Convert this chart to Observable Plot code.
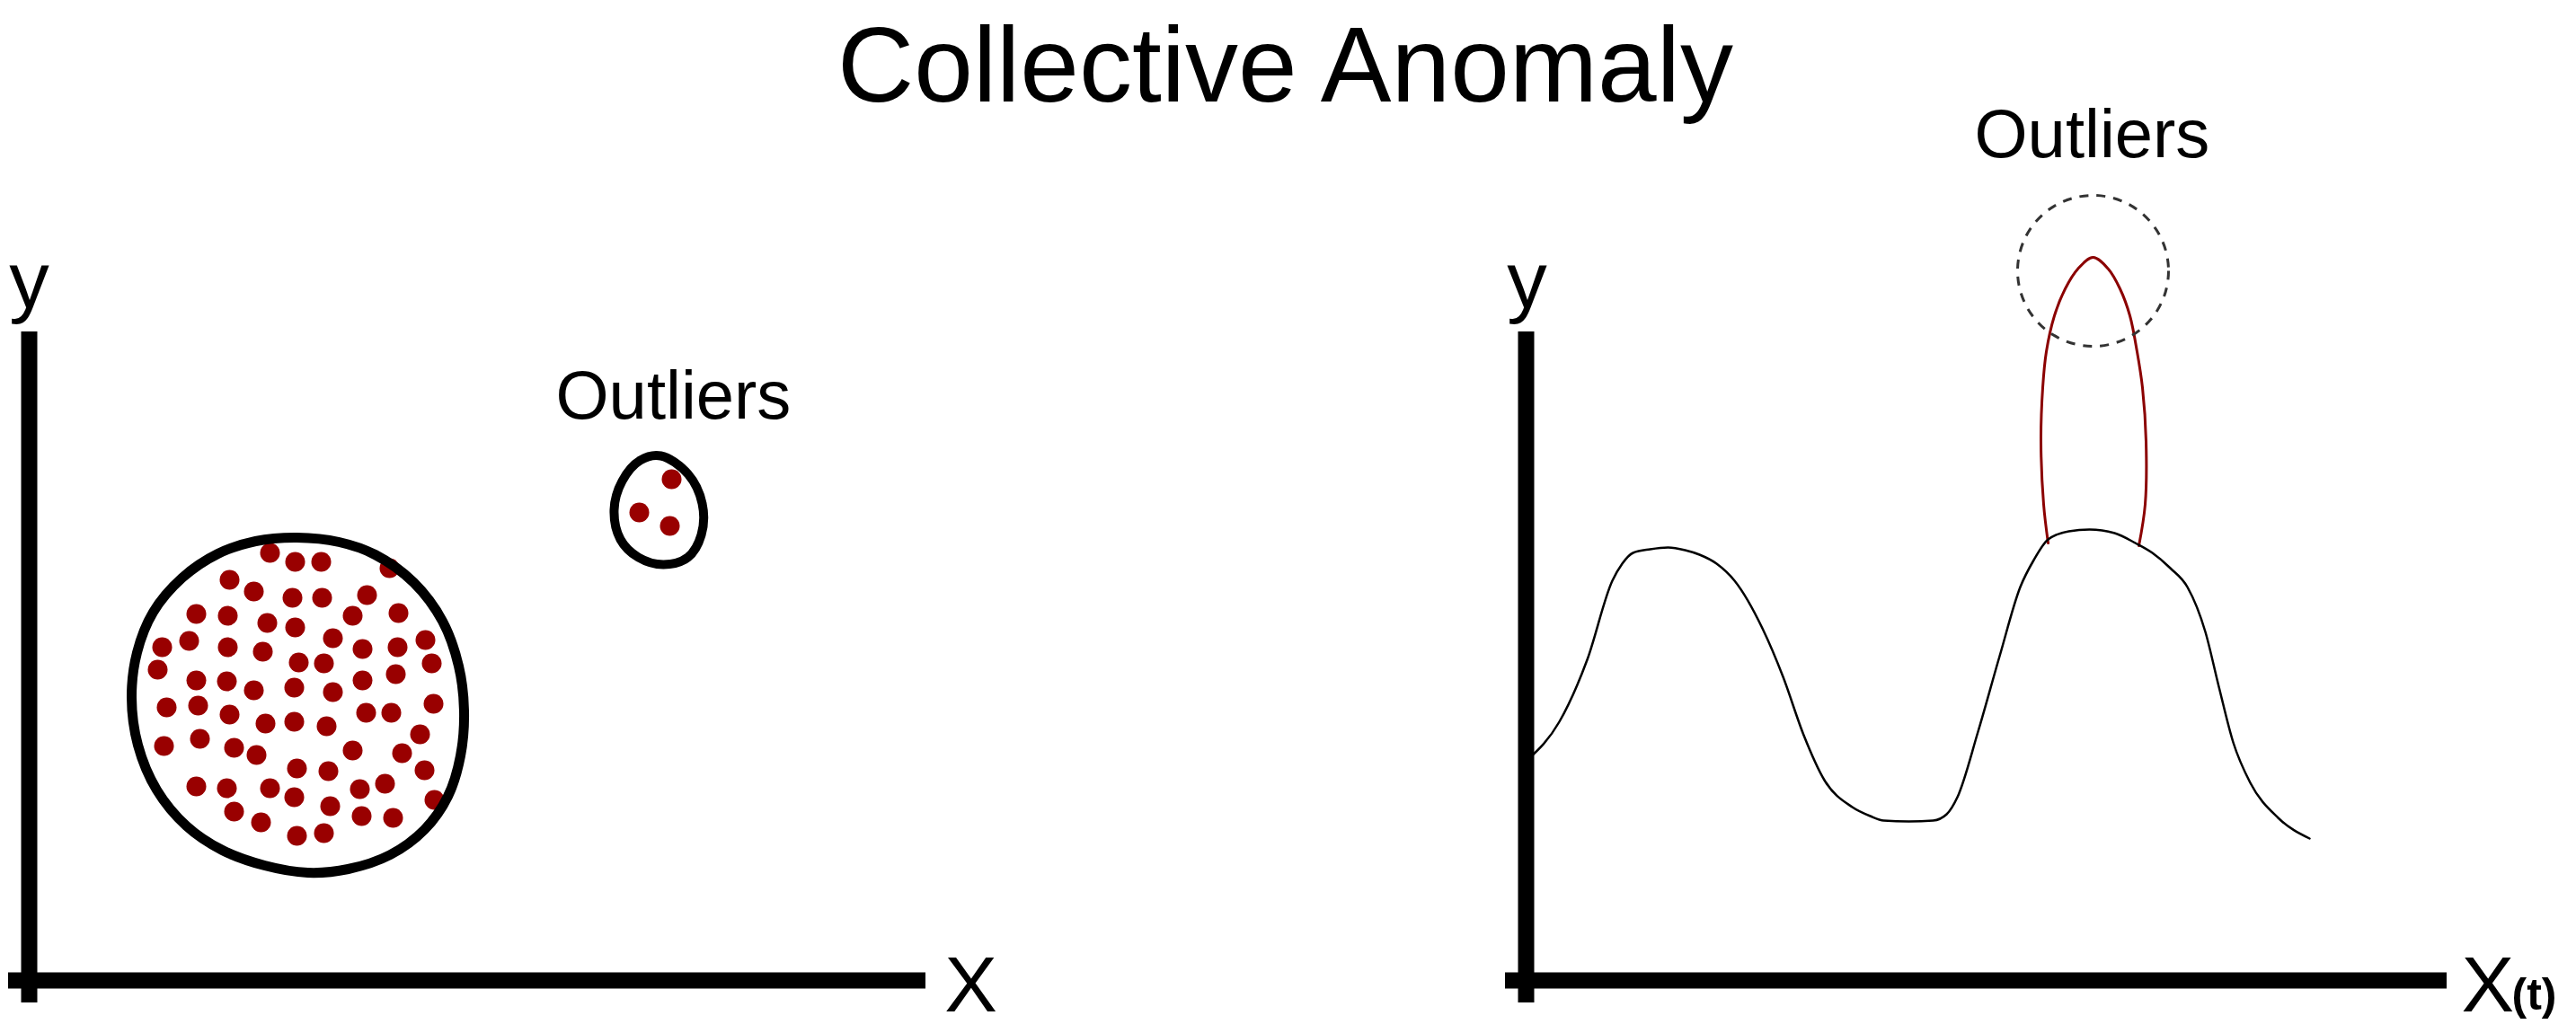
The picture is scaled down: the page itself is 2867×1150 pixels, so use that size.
<!DOCTYPE html>
<html>
<head>
<meta charset="utf-8">
<script src="https://cdn.jsdelivr.net/npm/d3@7"></script>
<script src="https://cdn.jsdelivr.net/npm/@observablehq/plot@0.6"></script>
<style>
  html, body { margin: 0; padding: 0; background: white; }
  #chart svg { display: block; }
</style>
</head>
<body>
<div id="chart"></div>
<script>
// ---- Data (panel units: origin at each panel's axis corner, x right, y up) ----
const titleText = "Collective Anomaly";
const axisLabels = { y: "y", x: "X", t: "(t)", outliers: "Outliers" };

// Left panel: normal cluster points
const clusterPoints = [
  [268,476],[296,466],[325,466],[401,459],[223,446],[250,433],[293,426],[326,426],
  [376,429],[411,409],[186,408],[221,406],[265,398],[296,393],[360,406],[148,371],
  [178,378],[221,371],[260,366],[338,381],[371,369],[410,371],[441,379],[143,346],
  [186,334],[220,333],[250,323],[300,354],[328,353],[371,334],[408,341],[448,353],
  [295,326],[338,321],[153,304],[188,306],[223,296],[263,286],[295,288],[331,283],
  [375,298],[403,298],[450,308],[150,261],[190,269],[228,259],[253,251],[298,236],
  [333,233],[360,256],[415,253],[435,274],[440,234],[186,216],[220,214],[268,214],
  [295,204],[335,194],[368,213],[396,219],[451,201],[228,188],[258,176],[298,161],
  [328,164],[370,183],[405,181]
];
// Left panel: outlier points
const outlierPoints = [[715,558],[679,521],[713,506]];

// Hand-drawn enclosing outlines
const clusterOutline = [
  [298,493],[345,488],[385,474],[428,443],[460,400],[478,350],[484,300],[480,250],
  [466,205],[440,168],[402,140],[355,124],[310,120],[262,128],[215,145],[175,172],
  [142,212],[121,262],[114,315],[120,365],[138,410],[170,448],[210,475],[252,489]
];
const outlierOutline = [
  [703,584],[733,564],[749,531],[748,496],[733,471],[706,463],[678,471],[658,491],
  [651,524],[660,556],[680,579]
];

// Right panel: time series (t, y)
const seriesT = [2,37,68,96,107,119,138,158,177,193,212,232,263,286,309,332,363,383,398,426,453,468,480,503,527,550,565,581,604,627,655,678,697,717,736,756,771,787,806,837,872];
const seriesY = [246,288,357,445,464,476,480,482,479,474,464,445,392,338,273,223,193,183,178,177,178,185,204,277,361,438,468,491,500,502,498,487,476,459,438,388,327,265,220,181,158];

// Right panel: anomalous spike (t, y)
const spikeT = [581,576,573,575,579,588,600,614,631,648,661,672,680,686,690,689,682];
const spikeY = [487,530,600,660,700,740,770,792,805,792,770,740,700,660,600,530,484];

// Right panel: highlighted outlier region centre
const outlierRegion = [[631,790]];

// ---- Layout constants ----
const RIGHT = 1666;              // right panel origin offset
const AX = { yTop: 722, yBottom: -25, xLeft: -23, xRightL: 998, xRightR: 1025 };
const FONT = "Liberation Sans, Arial, Helvetica, sans-serif";

const series = seriesT.map((t, i) => ({ x: RIGHT + t, y: seriesY[i] }));
const spike = spikeT.map((t, i) => ({ x: RIGHT + t, y: spikeY[i] }));

const chart = Plot.plot({
  width: 2867,
  height: 1150,
  margin: 0,
  style: { background: "white", fontFamily: FONT, overflow: "visible" },
  x: { domain: [-32, 2835], axis: null },
  y: { domain: [-59, 1091], axis: null },
  marks: [
    // axes (left)
    Plot.ruleX([0], { y1: AX.yBottom, y2: AX.yTop, stroke: "black", strokeWidth: 18 }),
    Plot.ruleY([0], { x1: AX.xLeft, x2: AX.xRightL, stroke: "black", strokeWidth: 18 }),
    // axes (right)
    Plot.ruleX([RIGHT], { y1: AX.yBottom, y2: AX.yTop, stroke: "black", strokeWidth: 18 }),
    Plot.ruleY([0], { x1: RIGHT + AX.xLeft, x2: RIGHT + AX.xRightR, stroke: "black", strokeWidth: 18 }),

    // left panel points
    Plot.dot(clusterPoints, { x: d => d[0], y: d => d[1], r: 11, fill: "#990000", stroke: "none" }),
    Plot.dot(outlierPoints, { x: d => d[0], y: d => d[1], r: 11, fill: "#990000", stroke: "none" }),
    Plot.line(clusterOutline, { x: d => d[0], y: d => d[1], curve: "catmull-rom-closed", stroke: "black", strokeWidth: 11 }),
    Plot.line(outlierOutline, { x: d => d[0], y: d => d[1], curve: "catmull-rom-closed", stroke: "black", strokeWidth: 10 }),

    // right panel series
    Plot.line(spike, { x: "x", y: "y", curve: "catmull-rom", stroke: "#8B0000", strokeWidth: 3 }),
    Plot.line(series, { x: "x", y: "y", curve: "monotone-x", stroke: "black", strokeWidth: 2.5 }),
    Plot.dot(outlierRegion, { x: d => RIGHT + d[0], y: d => d[1], r: 84, fill: "none", stroke: "#333", strokeWidth: 3, strokeDasharray: "10,9" }),

    // texts
    Plot.text([titleText], { x: 1398, y: 1016, text: d => d, fontSize: 118, fill: "black", fontFamily: FONT }),
    Plot.text([axisLabels.y], { x: 0, y: 778, text: d => d, fontSize: 89, fill: "black", fontFamily: FONT }),
    Plot.text([axisLabels.y], { x: RIGHT + 1, y: 778, text: d => d, fontSize: 89, fill: "black", fontFamily: FONT }),
    Plot.text([axisLabels.x], { x: 1048, y: -6, text: d => d, fontSize: 88, fill: "black", fontFamily: FONT }),
    Plot.text([axisLabels.x], { x: RIGHT + 1041, y: -6, text: d => d, textAnchor: "start", fontSize: 88, fill: "black", fontFamily: FONT }),
    Plot.text([axisLabels.t], { x: RIGHT + 1097, y: -16, text: d => d, textAnchor: "start", fontSize: 50, fontWeight: "bold", fill: "black", fontFamily: FONT }),
    Plot.text([axisLabels.outliers], { x: 586, y: 650, text: d => d, textAnchor: "start", fontSize: 76, fill: "black", fontFamily: FONT }),
    Plot.text([axisLabels.outliers], { x: RIGHT + 499, y: 941, text: d => d, textAnchor: "start", fontSize: 76, fill: "black", fontFamily: FONT })
  ]
});
document.getElementById("chart").appendChild(chart);
</script>
</body>
</html>
